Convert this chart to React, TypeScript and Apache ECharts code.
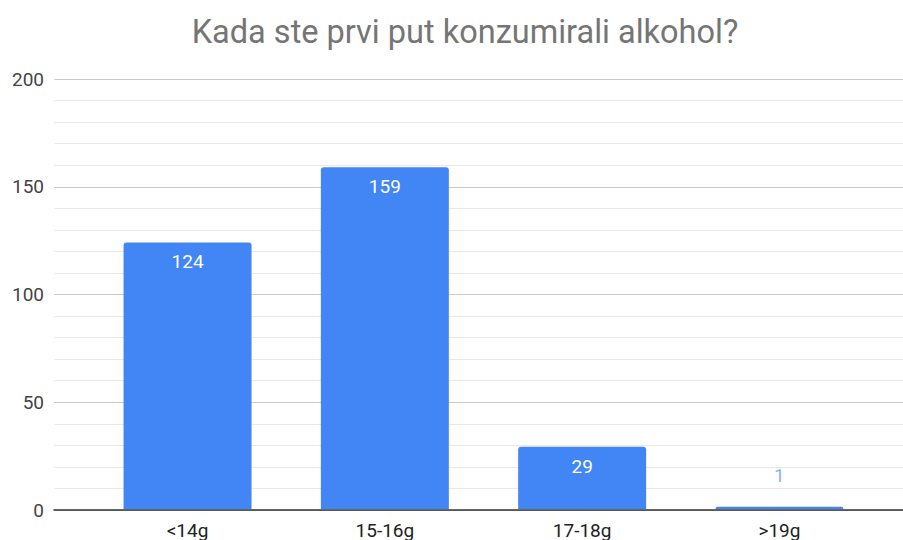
import React, { useEffect, useRef } from "react";
import * as echarts from "echarts";

const titleText = "Kada ste prvi put konzumirali alkohol?";
const categories = ["<14g", "15-16g", "17-18g", ">19g"];
const values = [124, 159, 29, 1];
const yMin = 0;
const yMax = 200;
const yInterval = 50;

export default function App() {
  const ref = useRef<HTMLDivElement>(null);
  useEffect(() => {
    document.body.style.margin = "0";
    if (!ref.current) return;
    const chart = echarts.init(ref.current, null, { renderer: "svg" });
    const font = "Roboto, Arial, sans-serif";
    const data = values.map((v) => {
      const small = v < 10;
      return {
        value: v,
        label: small
          ? { position: "top", distance: 22, color: "#8ab4f8" }
          : { position: "insideTop", distance: 10, color: "#ffffff" },
      };
    });
    chart.setOption({
      animation: false,
      title: {
        text: titleText,
        left: 460,
        top: 10,
        textAlign: "center",
        textStyle: { fontFamily: font, fontSize: 32.5, fontWeight: "normal", color: "#757575" },
      },
      grid: [
        { left: 54, right: 0, top: 79, bottom: 30 },
        { left: 88.9, right: 24.9, top: 79, bottom: 30 },
      ],
      xAxis: [
        {
          type: "value",
          gridIndex: 0,
          min: 0,
          max: 1,
          axisLine: { show: true, onZero: false, lineStyle: { color: "#333333", width: 1.5 } },
          axisTick: { show: false },
          axisLabel: { show: false },
          splitLine: { show: false },
        },
        {
          type: "category",
          gridIndex: 1,
          data: categories,
          axisLine: { show: false },
          axisTick: { show: false },
          axisLabel: { fontFamily: font, fontSize: 19, color: "#222222", margin: 12 },
        },
      ],
      yAxis: [
        {
          type: "value",
          gridIndex: 0,
          min: yMin,
          max: yMax,
          interval: yInterval,
          axisLine: { show: false },
          axisTick: { show: false },
          axisLabel: { fontFamily: font, fontSize: 19, color: "#444444", margin: 10 },
          splitLine: { lineStyle: { color: "#cccccc", width: 1 } },
          minorTick: { show: false, splitNumber: 5 },
          minorSplitLine: { show: true, lineStyle: { color: "#e8e8e8", width: 1 } },
        },
        {
          type: "value",
          gridIndex: 1,
          min: yMin,
          max: yMax,
          interval: yInterval,
          show: false,
          splitLine: { show: false },
        },
      ],
      series: [
        {
          type: "bar",
          xAxisIndex: 1,
          yAxisIndex: 1,
          data,
          barWidth: 128,
          itemStyle: { color: "#4285f4", borderRadius: [3, 3, 0, 0] },
          label: { show: true, fontFamily: font, fontSize: 19 },
        },
      ],
    });
    return () => chart.dispose();
  }, []);
  return <div ref={ref} style={{ width: 903, height: 540 }} />;
}
